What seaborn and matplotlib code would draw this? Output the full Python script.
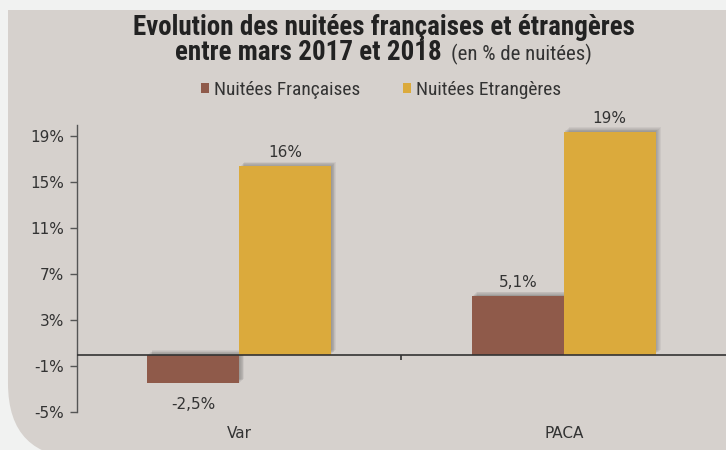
import matplotlib
matplotlib.use("Agg")
import matplotlib.pyplot as plt
import matplotlib.patheffects as pe
from matplotlib import font_manager
from matplotlib.patches import FancyBboxPatch, Rectangle
from matplotlib.ticker import FuncFormatter
import pandas as pd
import seaborn as sns

# data
zones = ["Var", "PACA"]
series = ["Nuitées Françaises", "Nuitées Etrangères"]
francaises = [-2.5, 5.1]
etrangeres = [16.4, 19.4]
labels_fr = ["-2,5%", "5,1%"]
labels_et = ["16%", "19%"]
yticks = [-5, -1, 3, 7, 11, 15, 19]

colors = ["#8f5a4a", "#dbaa3c"]
panel = "#d6d1cd"

# narrow font for title / legend if one is there
installed = {f.name for f in font_manager.fontManager.ttflist}
narrow = "Liberation Sans"
for cand in ["Liberation Sans Narrow", "Roboto Condensed", "DejaVu Sans Condensed",
             "Open Sans Condensed", "Noto Sans Condensed", "Roboto", "Liberation Sans"]:
    if cand in installed:
        narrow = cand
        break

df = pd.DataFrame({
    "zone": zones * 2,
    "serie": [series[0]] * 2 + [series[1]] * 2,
    "val": francaises + etrangeres,
})

sns.set_theme(style="white")
plt.rcParams["font.family"] = ["DejaVu Sans"]

fig = plt.figure(figsize=(7.26, 4.5), dpi=100)
fig.patch.set_facecolor("#f1f2f1")

# background panel, rounded bottom-left corner only
fig.patches.append(FancyBboxPatch((0.011, -0.018), 1.2, 0.8,
                                  boxstyle="round,pad=0,rounding_size=0.103",
                                  mutation_aspect=726 / 450,
                                  transform=fig.transFigure, facecolor=panel,
                                  edgecolor="none", zorder=-2))
fig.patches.append(Rectangle((0.011, 0.3), 1.2, 0.678, transform=fig.transFigure,
                             facecolor=panel, edgecolor="none", zorder=-2))

ax = fig.add_axes([0.106, 0.0844, 0.894, 0.6378])
ax.set_zorder(1)
ax.set_facecolor("none")

sns.barplot(data=df, x="zone", y="val", hue="serie", hue_order=series,
            order=zones, palette=colors, width=0.566, gap=0, saturation=1,
            legend=False, ax=ax, zorder=2)

# soft drop shadow, up and to the right
shadow = [pe.SimplePatchShadow(offset=(o, o * 0.9), shadow_rgbFace="k", alpha=0.055)
          for o in (0.6, 1.2, 1.8, 2.4, 3.0, 3.6)] + [pe.Normal()]
for p in ax.patches:
    p.set_path_effects(shadow)
    p.set_edgecolor("none")

ax.set_ylim(-5, 20)
ax.set_xlim(-0.5, 1.5)
ax.set_yticks(yticks)
ax.yaxis.set_major_formatter(FuncFormatter(lambda v, _: f"{v:.0f}%"))
ax.tick_params(axis="y", left=True, length=5, width=1, color="#555",
               labelsize=11, labelcolor="#333", pad=4)
ax.tick_params(axis="x", bottom=False, labelsize=11, labelcolor="#333", pad=4)
ax.set_xlabel("")
ax.set_ylabel("")
for s in ["top", "right", "bottom"]:
    ax.spines[s].set_visible(False)
ax.spines["left"].set_color("#555")
ax.spines["left"].set_linewidth(1)

ax.axhline(0, color="#333", lw=1.2, zorder=3)
ax.vlines(0.5, -0.5, 0, color="#333", lw=1.2, zorder=3)

# value labels
for i, z in enumerate(zones):
    bars = [ax.patches[i], ax.patches[i + 2]]
    for b, txt in zip(bars, [labels_fr[i], labels_et[i]]):
        h = b.get_height()
        cx = b.get_x() + b.get_width() / 2
        off = 10 if h >= 0 else -15
        ax.annotate(txt, (cx, h), xytext=(0, off), textcoords="offset points",
                    ha="center", va="center", fontsize=11, color="#333")

W, H = 726, 450
renderer = fig.canvas.get_renderer()


def fit(t, target_px):
    w = t.get_window_extent(renderer).width
    t.set_fontsize(t.get_fontsize() * target_px / w)


# title
t0 = fig.text(133 / W, 1 - 35 / H, "Evolution des nuitées françaises et étrangères",
              ha="left", va="baseline", fontsize=16, fontweight="bold",
              family=narrow, color="#222")
fit(t0, 502)
t1 = fig.text(175 / W, 1 - 60 / H, "entre mars 2017 et 2018", ha="left",
              va="baseline", fontsize=16, fontweight="bold", family=narrow,
              color="#222")
fit(t1, 267)
t2 = fig.text(451 / W, 1 - 60 / H, "(en % de nuitées)", ha="left", va="baseline",
              fontsize=12, family=narrow, color="#333")
fit(t2, 141)

# legend: font size fitted to the label width
probe = fig.text(0, 0, series[0], fontsize=13, family=narrow)
fit(probe, 146)
lfs = probe.get_fontsize()
probe.remove()
px_per_fs = lfs * 100 / 72
handles = [Rectangle((0, 0), 1, 1, facecolor=c, edgecolor="none") for c in colors]
fig.legend(handles, series, loc="center left", bbox_to_anchor=(201 / W, 1 - 90 / H),
           ncol=2, frameon=False, borderpad=0, borderaxespad=0,
           handlelength=8 / px_per_fs, handleheight=9 / px_per_fs,
           handletextpad=5 / px_per_fs, columnspacing=43 / px_per_fs,
           prop={"family": narrow, "size": lfs}, labelcolor="#333")

fig.savefig("out.png", dpi=100, facecolor=fig.get_facecolor())
